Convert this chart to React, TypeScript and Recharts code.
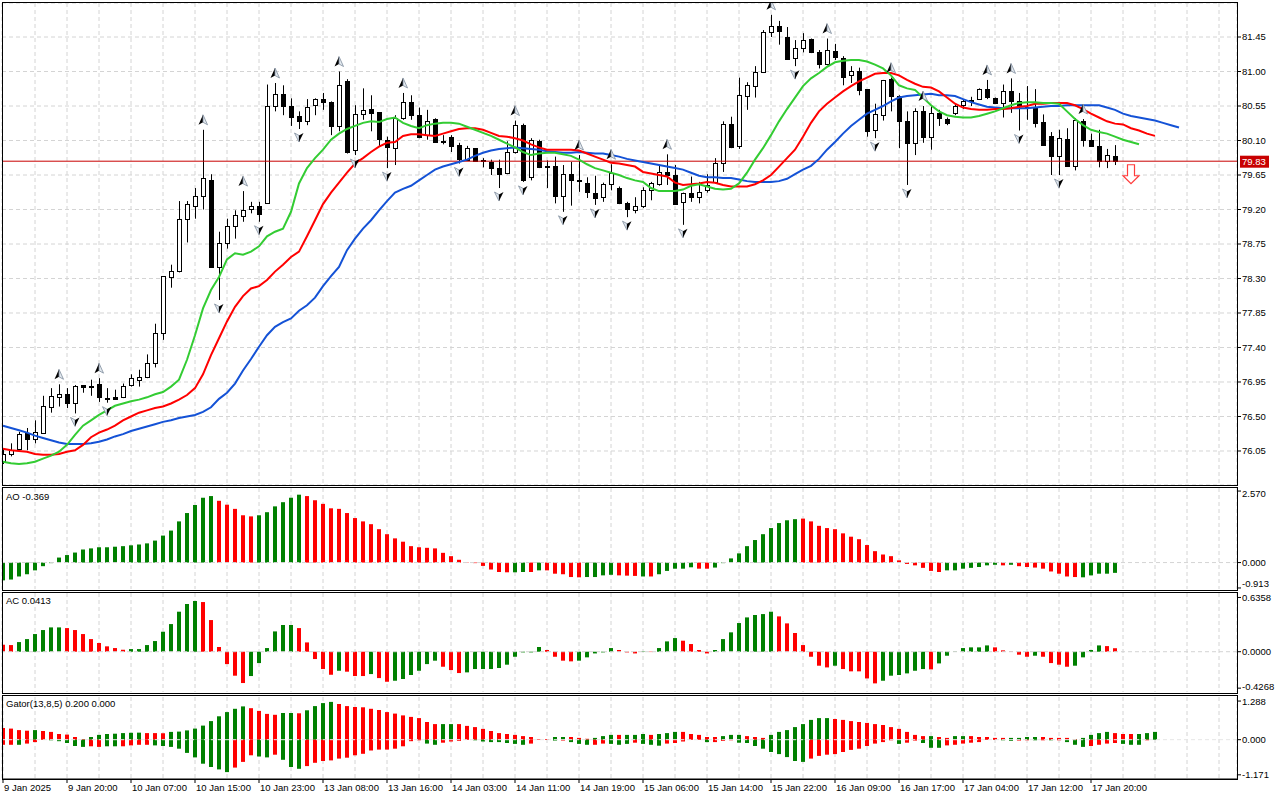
import React from "react";
import {
  ComposedChart,
  Bar,
  Line,
  Scatter,
  XAxis,
  YAxis,
  CartesianGrid,
  ReferenceLine,
  Cell,
} from "recharts";

// ---------- price data (hourly candles) ----------
const opens = [
  75.92, 76.01, 76.08, 76.28, 76.2, 76.29, 76.62, 76.76, 76.79, 76.68,
  76.91, 76.9, 76.92, 76.74, 76.76, 76.75, 76.91, 76.98, 77.01, 77.2,
  77.59, 78.32, 78.4, 79.07, 79.25, 79.37, 79.59, 78.45, 78.76, 78.99,
  79.12, 79.21, 79.25, 79.29, 80.55, 80.71, 80.55, 80.42, 80.36, 80.56,
  80.64, 80.6, 80.29, 80.87, 79.97, 80.45, 80.51, 80.47, 80.11, 80.0,
  80.4, 80.6, 80.43, 80.17, 80.38, 80.09, 80.15, 80.04, 79.85, 80.0,
  79.85, 79.82, 79.74, 79.67, 79.95, 80.3, 79.62, 80.09, 79.77, 79.77,
  79.38, 79.66, 79.58, 79.55, 79.42, 79.36, 79.53, 79.48, 79.29, 79.2,
  79.25, 79.45, 79.53, 79.69, 79.65, 79.3, 79.41, 79.36, 79.46, 79.56,
  79.81, 80.32, 80.03, 80.68, 80.81, 80.99, 81.51, 81.59, 81.45, 81.18,
  81.31, 81.42, 81.26, 81.1, 81.27, 81.18, 80.95, 81.01, 80.77, 80.24,
  80.43, 80.9, 80.68, 80.36, 80.07, 80.49, 80.15, 80.46, 80.38, 80.46,
  80.56, 80.61, 80.64, 80.77, 80.66, 80.59, 80.74, 80.61, 80.54, 80.54,
  80.34, 80.16, 79.9, 80.12, 79.77, 80.36, 80.11, 80.03, 79.83, 79.9,
];
const highs = [
  76.08, 76.15, 76.3, 76.35, 76.45, 76.77, 76.87, 76.92, 76.87, 76.91,
  76.91, 76.98, 77.0, 76.87, 76.85, 76.93, 77.05, 77.11, 77.31, 77.71,
  78.33, 78.48, 79.31, 79.31, 79.48, 80.24, 79.66, 78.91, 79.08, 79.19,
  79.44, 79.3, 79.3, 80.83, 80.85, 80.82, 80.65, 80.48, 80.64, 80.65,
  80.72, 80.61, 81.0, 80.9, 80.56, 80.78, 80.69, 80.47, 80.15, 80.43,
  80.72, 80.69, 80.53, 80.5, 80.39, 80.17, 80.17, 80.07, 80.03, 80.0,
  79.87, 79.85, 79.85, 80.09, 80.36, 80.32, 80.13, 80.11, 79.84, 79.89,
  79.78, 79.82, 79.91, 79.62, 79.64, 79.55, 79.79, 79.5, 79.3, 79.36,
  79.49, 79.56, 79.77, 79.92, 79.78, 79.42, 79.63, 79.56, 79.66, 79.87,
  80.35, 80.41, 80.92, 80.86, 81.07, 81.54, 81.74, 81.66, 81.58, 81.41,
  81.5, 81.43, 81.28, 81.43, 81.36, 81.2, 81.07, 81.05, 80.77, 80.58,
  80.89, 80.92, 80.69, 80.48, 80.52, 80.55, 80.55, 80.5, 80.4, 80.58,
  80.64, 80.67, 80.78, 80.89, 80.66, 80.83, 80.91, 80.72, 80.81, 80.77,
  80.44, 80.21, 80.24, 80.26, 80.39, 80.38, 80.19, 80.24, 79.99, 80.04,
];
const lows = [
  75.88, 75.98, 76.06, 76.06, 76.15, 76.28, 76.55, 76.63, 76.61, 76.54,
  76.81, 76.77, 76.69, 76.68, 76.72, 76.74, 76.89, 76.89, 77.0, 77.14,
  77.5, 78.18, 78.38, 78.77, 79.08, 79.2, 78.45, 78.02, 78.69, 78.82,
  79.04, 79.15, 79.04, 79.29, 80.48, 80.43, 80.29, 80.25, 80.3, 80.43,
  80.5, 80.17, 80.22, 79.93, 79.91, 80.37, 80.22, 80.02, 79.74, 79.78,
  80.37, 80.37, 80.13, 80.11, 80.08, 80.05, 79.95, 79.8, 79.84, 79.83,
  79.75, 79.65, 79.48, 79.66, 79.93, 79.56, 79.58, 79.74, 79.48, 79.28,
  79.17, 79.25, 79.43, 79.35, 79.26, 79.3, 79.45, 79.27, 79.1, 79.15,
  79.22, 79.32, 79.51, 79.52, 79.26, 79.0, 79.3, 79.28, 79.42, 79.54,
  79.69, 80.0, 79.99, 80.5, 80.66, 80.98, 81.45, 81.35, 81.15, 81.07,
  81.25, 81.24, 81.04, 81.08, 81.15, 80.82, 80.85, 80.69, 80.15, 80.13,
  80.36, 80.48, 80.0, 79.52, 79.91, 80.07, 79.98, 80.29, 80.3, 80.43,
  80.51, 80.55, 80.63, 80.64, 80.58, 80.4, 80.46, 80.23, 80.37, 80.27,
  80.03, 79.65, 79.65, 79.76, 79.71, 80.02, 80.02, 79.75, 79.74, 79.78,
];
const closes = [
  76.01, 76.06, 76.27, 76.21, 76.3, 76.64, 76.77, 76.79, 76.67, 76.9,
  76.89, 76.9, 76.75, 76.74, 76.73, 76.9, 77.0, 77.02, 77.2, 77.59,
  78.33, 78.4, 79.07, 79.27, 79.38, 79.61, 78.45, 78.76, 78.99, 79.13,
  79.2, 79.25, 79.14, 80.55, 80.71, 80.55, 80.41, 80.36, 80.54, 80.64,
  80.6, 80.29, 80.83, 79.95, 80.44, 80.5, 80.46, 80.12, 80.01, 80.39,
  80.6, 80.43, 80.15, 80.36, 80.08, 80.08, 80.03, 79.86, 80.0, 79.83,
  79.84, 79.74, 79.66, 79.95, 80.3, 79.59, 80.11, 79.76, 79.76, 79.38,
  79.66, 79.58, 79.57, 79.43, 79.35, 79.53, 79.67, 79.29, 79.21, 79.25,
  79.45, 79.54, 79.69, 79.65, 79.27, 79.41, 79.36, 79.43, 79.52, 79.81,
  80.32, 80.02, 80.7, 80.83, 80.99, 81.52, 81.59, 81.53, 81.16, 81.31,
  81.41, 81.26, 81.1, 81.28, 81.19, 80.93, 81.01, 80.76, 80.23, 80.44,
  80.89, 80.68, 80.35, 80.07, 80.49, 80.14, 80.46, 80.39, 80.33, 80.55,
  80.61, 80.63, 80.77, 80.67, 80.59, 80.75, 80.62, 80.56, 80.52, 80.33,
  80.04, 79.9, 80.13, 79.77, 80.37, 80.11, 80.03, 79.83, 79.91, 79.83,
];

// ---------- Alligator (13,8,5) lines, already shifted forward ----------
const jaw = [
  76.38, 76.35, 76.32, 76.29, 76.25, 76.22, 76.19, 76.16, 76.14, 76.14,
  76.14, 76.15, 76.17, 76.2, 76.24, 76.27, 76.31, 76.34, 76.37, 76.4,
  76.43, 76.45, 76.48, 76.5, 76.52, 76.56, 76.62, 76.73, 76.81, 76.93,
  77.1, 77.25, 77.41, 77.56, 77.67, 77.73, 77.78, 77.88, 77.95, 78.05,
  78.2, 78.33, 78.45, 78.67, 78.82, 78.95, 79.06, 79.19, 79.31, 79.42,
  79.47, 79.51, 79.58, 79.65, 79.72, 79.76, 79.79, 79.82, 79.85, 79.9,
  79.94, 79.97, 79.99, 80.0, 80.01, 80.0, 79.99, 79.98, 79.96, 79.95,
  79.94, 79.94, 79.95, 79.94, 79.93, 79.93, 79.91, 79.89, 79.86, 79.84,
  79.82, 79.8, 79.78, 79.76, 79.74, 79.72, 79.68, 79.64, 79.62, 79.62,
  79.61, 79.61, 79.59, 79.57, 79.56, 79.56, 79.56, 79.57, 79.6, 79.66,
  79.72, 79.77, 79.86, 79.98, 80.08, 80.19, 80.29, 80.37, 80.45, 80.5,
  80.55, 80.61, 80.66, 80.68, 80.69, 80.7, 80.71, 80.69, 80.69, 80.68,
  80.64, 80.6, 80.57, 80.54, 80.53, 80.52, 80.52, 80.52, 80.52, 80.53,
  80.54, 80.55, 80.55, 80.56, 80.56, 80.56, 80.56, 80.56, 80.53, 80.5,
  80.45, 80.42, 80.4, 80.38, 80.36, 80.33, 80.3, 80.27,
];
const teeth = [
  76.08, 76.06, 76.05, 76.04, 76.01, 76.0, 76.0, 76.01, 76.04, 76.06,
  76.13, 76.23, 76.29, 76.33, 76.38, 76.45, 76.5, 76.55, 76.58, 76.61,
  76.63, 76.67, 76.72, 76.78, 76.87, 77.05, 77.3, 77.52, 77.74, 77.93,
  78.07, 78.17, 78.2, 78.28, 78.39, 78.48, 78.58, 78.65, 78.85, 79.06,
  79.27, 79.42, 79.55, 79.68, 79.8, 79.87, 79.95, 80.02, 80.07, 80.08,
  80.16, 80.18, 80.18, 80.17, 80.16, 80.19, 80.22, 80.25, 80.26, 80.26,
  80.24, 80.2, 80.16, 80.15, 80.13, 80.1, 80.05, 80.01, 79.98, 79.98,
  79.98, 79.98, 79.97, 79.93, 79.89, 79.85, 79.81, 79.8, 79.78, 79.76,
  79.69, 79.67, 79.65, 79.63, 79.55, 79.52, 79.53, 79.54, 79.56, 79.55,
  79.52, 79.5, 79.5, 79.5, 79.53, 79.58, 79.65, 79.76, 79.87, 79.98,
  80.15, 80.33, 80.48, 80.58, 80.66, 80.74, 80.81, 80.87, 80.92, 80.97,
  80.98, 80.98, 80.95, 80.89, 80.84, 80.8, 80.79, 80.74, 80.66, 80.58,
  80.53, 80.51, 80.5, 80.5, 80.51, 80.51, 80.52, 80.54, 80.55, 80.58,
  80.58, 80.59, 80.59, 80.59, 80.56, 80.51, 80.45, 80.4, 80.35, 80.32,
  80.31, 80.26, 80.23, 80.19, 80.16,
];
const lips = [
  75.91, 75.89, 75.88, 75.89, 75.91, 75.95, 75.99, 76.04, 76.13, 76.26,
  76.38, 76.45, 76.52, 76.58, 76.64, 76.67, 76.7, 76.72, 76.75, 76.79,
  76.82, 76.89, 76.98, 77.24, 77.56, 77.91, 78.15, 78.32, 78.55, 78.63,
  78.61, 78.65, 78.72, 78.85, 78.91, 78.95, 79.17, 79.54, 79.74, 79.87,
  79.98, 80.11, 80.19, 80.25, 80.29, 80.33, 80.35, 80.34, 80.38, 80.4,
  80.33, 80.29, 80.26, 80.3, 80.32, 80.33, 80.33, 80.32, 80.28, 80.24,
  80.2, 80.16, 80.11, 80.06, 80.01, 79.95, 79.91, 79.93, 79.94, 79.94,
  79.92, 79.9, 79.85, 79.79, 79.74, 79.71, 79.68, 79.65, 79.61, 79.58,
  79.56, 79.48, 79.44, 79.44, 79.44, 79.46, 79.51, 79.53, 79.5, 79.47,
  79.46, 79.47, 79.54, 79.68, 79.85, 80.0, 80.17, 80.35, 80.51, 80.66,
  80.81, 80.91, 80.98, 81.06, 81.12, 81.14, 81.15, 81.15, 81.13, 81.09,
  81.04, 80.95, 80.82, 80.78, 80.76, 80.66, 80.56, 80.48, 80.43, 80.41,
  80.4, 80.4, 80.42, 80.45, 80.48, 80.52, 80.56, 80.59, 80.6, 80.6,
  80.59, 80.59, 80.58, 80.48, 80.38, 80.3, 80.24, 80.21, 80.19, 80.15,
  80.11, 80.08, 80.05,
];

// bar indexes of Bill Williams fractals
const fractalUp = [7, 12, 25, 30, 34, 42, 50, 64, 72, 76, 83, 96, 103, 111, 115, 123, 126, 135];
const fractalDown = [9, 13, 27, 32, 37, 44, 48, 57, 62, 65, 70, 74, 78, 85, 99, 109, 113, 127, 132];
const sellSignal = { bar: 141, price: 79.66 };
const lastPrice = 79.83;

// ---------- Awesome Oscillator ----------
const ao = [
  -0.64, -0.61, -0.5, -0.42, -0.28, -0.13, -0.02, 0.18, 0.27, 0.36,
  0.47, 0.51, 0.55, 0.55, 0.57, 0.59, 0.62, 0.65, 0.69, 0.79,
  0.97, 1.15, 1.48, 1.78, 2.07, 2.33, 2.39, 2.22, 2.08, 1.93,
  1.7, 1.66, 1.7, 1.81, 2.02, 2.17, 2.33, 2.44, 2.39, 2.24,
  2.11, 1.95, 1.93, 1.78, 1.6, 1.48, 1.38, 1.2, 1.02, 0.87,
  0.75, 0.59, 0.55, 0.53, 0.51, 0.35, 0.23, 0.1, 0.01, -0.02,
  -0.12, -0.25, -0.34, -0.35, -0.35, -0.34, -0.34, -0.28, -0.28, -0.4,
  -0.42, -0.52, -0.53, -0.52, -0.52, -0.46, -0.44, -0.46, -0.47, -0.48,
  -0.5, -0.5, -0.42, -0.3, -0.22, -0.22, -0.17, -0.22, -0.22, -0.18,
  -0.02, 0.15, 0.33, 0.59, 0.81, 1.02, 1.24, 1.42, 1.52, 1.56,
  1.58, 1.48, 1.32, 1.24, 1.2, 1.05, 0.93, 0.84, 0.63, 0.41,
  0.29, 0.23, 0.08, -0.05, -0.1, -0.19, -0.3, -0.34, -0.28, -0.28,
  -0.22, -0.19, -0.16, -0.1, -0.08, -0.1, -0.08, -0.13, -0.16, -0.18,
  -0.22, -0.32, -0.4, -0.5, -0.52, -0.53, -0.46, -0.4, -0.4, -0.37,
];
const aoDir = (
  "GGGGGGGGGG GGGGGGGGGG GGGGGGGRRR RRGGGGGGRR RRRRRRRRRR " +
  "RRRRRRRRRR RRRRGGRGRR RRRGGGGRRR GRGGGGGRRG GGGGGGGGGG " +
  "RRRRRRRRRR RRRRRRRRGG GGGGGRGRRR RRRRRGGGGG"
).replace(/ /g, "");

// ---------- Accelerator Oscillator ----------
const ac = [
  0.082, 0.078, 0.113, 0.148, 0.207, 0.254, 0.285, 0.285, 0.277, 0.254,
  0.207, 0.148, 0.102, 0.063, 0.043, 0.023, 0.031, 0.031, 0.078, 0.125,
  0.234, 0.324, 0.469, 0.559, 0.594, 0.582, 0.371, 0.055, -0.145, -0.281,
  -0.367, -0.285, -0.133, 0.043, 0.238, 0.313, 0.313, 0.277, 0.109, -0.086,
  -0.203, -0.27, -0.223, -0.234, -0.285, -0.285, -0.262, -0.309, -0.352, -0.34,
  -0.32, -0.273, -0.223, -0.145, -0.105, -0.176, -0.215, -0.25, -0.242, -0.203,
  -0.203, -0.203, -0.191, -0.152, -0.059, -0.008, -0.008, 0.055, 0.02, -0.059,
  -0.105, -0.113, -0.105, -0.066, -0.02, -0.008, 0.043, 0.02, -0.008, -0.02,
  0.004, -0.004, 0.043, 0.121, 0.16, 0.129, 0.09, 0.02, -0.02, 0.02,
  0.148, 0.227, 0.336, 0.402, 0.43, 0.441, 0.469, 0.414, 0.332, 0.219,
  0.078, -0.059, -0.164, -0.184, -0.164, -0.203, -0.23, -0.23, -0.313, -0.371,
  -0.34, -0.281, -0.273, -0.254, -0.223, -0.203, -0.207, -0.137, -0.047, 0.004,
  0.043, 0.051, 0.051, 0.074, 0.051, 0.016, 0.004, -0.035, -0.059, -0.047,
  -0.059, -0.133, -0.152, -0.176, -0.164, -0.066, 0.02, 0.074, 0.066, 0.041,
];
const acDir = (
  "RRGGGGGGRR RRRRRRGGGG GGGGGRRRRR RGGGGGGRRR RRGRRRGRRG " +
  "GGGGGRRRGG GGGGGGGGRR RRGGGGGRRR GRGGGRRRRG GGGGGGGRRR " +
  "RRRRGRRRRR GGGGGGRGGG GGGGRRRRRG RRRRGGGGRR"
).replace(/ /g, "");

// ---------- Gator Oscillator ----------
const gatorUp = [
  0.39, 0.37, 0.32, 0.3, 0.32, 0.29, 0.26, 0.19, 0.17, 0.09,
  0.02, 0.09, 0.16, 0.19, 0.2, 0.22, 0.23, 0.235, 0.22, 0.22,
  0.215, 0.26, 0.27, 0.31, 0.37, 0.47, 0.62, 0.78, 0.92, 1.03,
  1.11, 1.05, 0.96, 0.86, 0.83, 0.89, 0.89, 0.88, 0.98, 1.12,
  1.22, 1.26, 1.19, 1.12, 1.09, 1.08, 1.03, 0.99, 0.92, 0.87,
  0.81, 0.76, 0.72, 0.59, 0.52, 0.52, 0.52, 0.52, 0.46, 0.42,
  0.36, 0.29, 0.22, 0.19, 0.16, 0.12, 0.09, 0.01, 0.02, 0.09,
  0.09, 0.09, 0.06, 0.03, 0.06, 0.12, 0.16, 0.16, 0.16, 0.16,
  0.19, 0.16, 0.19, 0.22, 0.26, 0.26, 0.19, 0.16, 0.09, 0.09,
  0.12, 0.16, 0.16, 0.12, 0.09, 0.06, 0.16, 0.26, 0.32, 0.42,
  0.52, 0.66, 0.72, 0.72, 0.69, 0.66, 0.62, 0.59, 0.56, 0.52,
  0.49, 0.42, 0.36, 0.26, 0.16, 0.12, 0.12, 0.09, 0.06, 0.12,
  0.12, 0.12, 0.09, 0.09, 0.06, 0.06, 0.06, 0.06, 0.09, 0.09,
  0.09, 0.06, 0.06, 0.06, 0.02, 0.06, 0.16, 0.22, 0.26, 0.22,
  0.19, 0.19, 0.19, 0.22, 0.26,
];
const gatorUpDir = (
  "RRRRGRRRRR RGGGGGGGRR RGGGGGGGGG GRRRRGGRGG GGRRRRRRRR " +
  "RRRRRGGRRR RRRRRRRRRG GRRRGGGRGG GRGGGRRRRR GGGRRRGGGG " +
  "GGGGRRRRRR RRRRRRGRRG GRRRRRGGGG RRRRRGGGGR RRGGG"
).replace(/ /g, "");
const gatorDown = [
  -0.17, -0.17, -0.17, -0.13, -0.08, -0.01, -0.02, -0.05, -0.11, -0.21,
  -0.24, -0.22, -0.24, -0.22, -0.22, -0.22, -0.19, -0.17, -0.17, -0.19,
  -0.21, -0.24, -0.3, -0.44, -0.59, -0.8, -0.91, -0.99, -1.08, -0.93,
  -0.74, -0.52, -0.56, -0.59, -0.5, -0.67, -0.91, -0.97, -0.88, -0.77,
  -0.71, -0.69, -0.63, -0.6, -0.52, -0.47, -0.36, -0.33, -0.33, -0.3,
  -0.22, -0.05, -0.02, -0.13, -0.17, -0.1, -0.06, -0.04, -0.01, -0.02,
  -0.06, -0.08, -0.08, -0.11, -0.14, -0.17, -0.13, -0.01, -0.01, -0.03,
  -0.03, -0.08, -0.14, -0.17, -0.17, -0.13, -0.14, -0.17, -0.14, -0.1,
  -0.14, -0.17, -0.2, -0.13, -0.11, -0.06, -0.01, -0.01, -0.08, -0.08,
  -0.04, -0.02, -0.1, -0.11, -0.21, -0.3, -0.41, -0.48, -0.58, -0.71,
  -0.74, -0.63, -0.54, -0.5, -0.48, -0.41, -0.34, -0.3, -0.21, -0.13,
  -0.08, -0.02, -0.14, -0.1, -0.03, -0.11, -0.27, -0.27, -0.19, -0.17,
  -0.13, -0.1, -0.08, -0.01, -0.01, -0.02, -0.04, -0.03, -0.02, -0.02,
  -0.02, -0.02, -0.02, -0.08, -0.17, -0.24, -0.21, -0.17, -0.13, -0.11,
  -0.14, -0.17, -0.17, -0.02,
];
const gatorDownDir = (
  "RRGRRRGGGG GRRGGRRRRG GGGGGGGGGR RRGGRGGGRR RRRRRRRRRR " +
  "RRRGGRRRRG GGGGGGRRRG RGGGRRGGGR GGGRRRRRGR RRGGGGGGGG " +
  "GRRRRRRRRR RRGRRGGGRR RRRRRGGRRG RGRGGGRRRR GGGR"
).replace(/ /g, "");

// ---------- axes ----------
const priceTicks = [76.05, 76.5, 76.95, 77.4, 77.85, 78.3, 78.75, 79.2, 79.65, 80.1, 80.55, 81.0, 81.45];
const aoTicks = [2.57, 0, -0.913];
const acTicks = [0.6358, 0, -0.4268];
const gatorTicks = [1.288, 0, -1.171];
const timeLabels = [
  "9 Jan 2025", "9 Jan 20:00", "10 Jan 07:00", "10 Jan 15:00", "10 Jan 23:00",
  "13 Jan 08:00", "13 Jan 16:00", "14 Jan 03:00", "14 Jan 11:00", "14 Jan 19:00",
  "15 Jan 06:00", "15 Jan 14:00", "15 Jan 22:00", "16 Jan 09:00", "16 Jan 17:00",
  "17 Jan 04:00", "17 Jan 12:00", "17 Jan 20:00",
];
const BARS_PER_LABEL = 8;
const labelBars = timeLabels.map((_, k) => k * BARS_PER_LABEL);
const gridBars = Array.from({ length: 39 }, (_, k) => k * 4);

// ---------- layout / style ----------
const W = 1280;
const X_DOMAIN: [number, number] = [-0.125, 154.25];
const FONT = '"Liberation Sans", Arial, sans-serif';
const GREEN = "#008000";
const RED = "#ff0000";
const GRID = "#d4d4d4";
const dirColor = (d: string) => (d === "G" ? GREEN : RED);

const mainData = jaw.map((j, i) => ({
  i,
  o: opens[i],
  h: highs[i],
  l: lows[i],
  c: closes[i],
  jaw: j,
  teeth: teeth[i],
  lips: lips[i],
}));
const upData = fractalUp.map((b) => ({ i: b, v: highs[b] }));
const downData = fractalDown.map((b) => ({ i: b, v: lows[b] }));
const sellData = [{ i: sellSignal.bar, v: sellSignal.price }];
const aoData = ao.map((v, i) => ({ i, v }));
const acData = ac.map((v, i) => ({ i, v }));
const gatorData = gatorUp.map((u, i) => ({ i, up: u, down: gatorDown[i] }));

function Candle(props: any) {
  const { x, y, width, height, payload } = props;
  if (!payload || payload.o === undefined || !isFinite(y)) return <g />;
  const top = Math.min(y, y + height);
  const bot = Math.max(y, y + height);
  const span = payload.h - payload.l || 1;
  const py = (p: number) => top + ((payload.h - p) / span) * (bot - top);
  const cx = Math.round(x + width / 2) + 0.5;
  const yo = py(payload.o);
  const yc = py(payload.c);
  const bt = Math.round(Math.min(yo, yc)) + 0.5;
  const bb = Math.round(Math.max(yo, yc)) + 0.5;
  const bull = payload.c >= payload.o;
  return (
    <g>
      <line x1={cx} x2={cx} y1={top} y2={bot} stroke="#000" strokeWidth={1} />
      <rect
        x={cx - 2}
        y={bt}
        width={4}
        height={Math.max(bb - bt, 1)}
        fill={bull ? "#fff" : "#000"}
        stroke="#000"
        strokeWidth={1}
      />
    </g>
  );
}

function UpFractal(props: any) {
  const { cx, cy } = props;
  const y = cy - 9;
  return (
    <g>
      <path d={`M${cx},${y - 6} L${cx - 4.5},${y + 4} L${cx},${y + 1.5} Z`} fill="#000" />
      <path
        d={`M${cx},${y - 6} L${cx + 4.5},${y + 4} L${cx},${y + 1.5} Z`}
        fill="#e4eaf0"
        stroke="#7d8c9c"
        strokeWidth={0.8}
      />
    </g>
  );
}

function DownFractal(props: any) {
  const { cx, cy } = props;
  const y = cy + 8;
  return (
    <g>
      <path
        d={`M${cx},${y + 5} L${cx - 4.5},${y - 4} L${cx},${y - 1.5} Z`}
        fill="#e4eaf0"
        stroke="#7d8c9c"
        strokeWidth={0.8}
      />
      <path d={`M${cx},${y + 5} L${cx + 4.5},${y - 4} L${cx},${y - 1.5} Z`} fill="#000" />
    </g>
  );
}

function SellArrow(props: any) {
  const { cx, cy } = props;
  const t = cy - 9.5;
  const d = `M${cx - 3.5},${t} L${cx + 3.5},${t} L${cx + 3.5},${t + 11} L${cx + 8},${t + 11} L${cx},${t + 19} L${cx - 8},${t + 11} L${cx - 3.5},${t + 11} Z`;
  return <path d={d} fill="#fff" stroke="#ff3b3b" strokeWidth={1.2} />;
}

function PriceTag(props: any) {
  const vb = props.viewBox || {};
  const x = (vb.x ?? 0) + (vb.width ?? 0) + 3;
  const y = vb.y ?? 0;
  return (
    <g>
      <rect x={x} y={y - 5.5} width={29} height={12} fill="#c80000" />
      <text x={x + 2} y={y + 0.5} dy="0.35em" fill="#fff" fontSize={9.5} fontFamily={FONT}>
        {lastPrice.toFixed(2)}
      </text>
    </g>
  );
}

// right-hand labels of the indicator windows: the top and bottom values are
// nudged inside the window, as the terminal does
function SideTick(props: any) {
  const { x, y, payload, index, digits, shift } = props;
  const dy = (shift && shift[index]) || 0;
  return (
    <text x={x} y={y + dy} dy="0.35em" fontSize={9.5} fill="#000" fontFamily={FONT} textAnchor="start">
      {Number(payload.value).toFixed(digits)}
    </text>
  );
}

// tick renderer for the bottom time axis: the axis carries a tick every
// 4 bars (for the grid); a mark and a label are drawn every 8 bars.
function TimeTick(props: any) {
  const { x, y, payload } = props;
  const k = labelBars.indexOf(payload.value);
  if (k < 0) return <g />;
  return (
    <g>
      <line x1={x} x2={x} y1={y} y2={y + 4} stroke="#000" />
      <text x={x + 1} y={y + 5} dy="0.75em" fontSize={9.5} fill="#000" fontFamily={FONT} textAnchor="start">
        {timeLabels[k]}
      </text>
    </g>
  );
}

const axisTick = { fontSize: 9.5, fill: "#000", fontFamily: FONT };

const frame = (top: number, height: number): React.CSSProperties => ({
  position: "absolute",
  left: 2,
  top,
  width: 1236,
  height,
  border: "1px solid #000",
  boxSizing: "border-box",
  pointerEvents: "none",
});

const title = (top: number): React.CSSProperties => ({
  position: "absolute",
  left: 6,
  top,
  fontSize: 9.5,
  fontFamily: FONT,
  color: "#000",
  lineHeight: "10px",
});

export default function App() {
  return (
    <div style={{ position: "relative", width: W, height: 800, background: "#fff", fontFamily: FONT }}>
      <style>{"body{margin:0;background:#fff} .recharts-surface,.recharts-wrapper{overflow:visible}"}</style>

      {/* main price window */}
      <div style={{ position: "absolute", left: 0, top: 3 }}>
        <ComposedChart width={W} height={482} data={mainData} margin={{ top: 0, right: 0, bottom: 0, left: 2 }}>
          <CartesianGrid stroke={GRID} strokeDasharray="4 3" />
          <XAxis dataKey="i" type="number" domain={X_DOMAIN} allowDataOverflow ticks={gridBars} hide />
          <YAxis
            orientation="right"
            width={43}
            domain={[75.6065, 81.8935]}
            allowDataOverflow
            ticks={priceTicks}
            interval={0}
            tickFormatter={(v: number) => v.toFixed(2)}
            tick={axisTick}
            tickSize={4}
            tickMargin={1}
            tickLine={{ stroke: "#000" }}
            axisLine={false}
          />
          <Bar
            dataKey={(d: any) => (d.o === undefined ? null : [d.l, d.h])}
            barSize={5}
            shape={<Candle />}
            isAnimationActive={false}
          />
          <ReferenceLine y={lastPrice} stroke="#c80000" strokeWidth={1} label={<PriceTag />} />
          <Line dataKey="jaw" stroke="#1452d6" strokeWidth={2} dot={false} isAnimationActive={false} />
          <Line dataKey="teeth" stroke="#ff0000" strokeWidth={2} dot={false} isAnimationActive={false} />
          <Line dataKey="lips" stroke="#33cc33" strokeWidth={2} dot={false} isAnimationActive={false} />
          <Scatter data={upData} dataKey="v" shape={<UpFractal />} isAnimationActive={false} />
          <Scatter data={downData} dataKey="v" shape={<DownFractal />} isAnimationActive={false} />
          <Scatter data={sellData} dataKey="v" shape={<SellArrow />} isAnimationActive={false} />
        </ComposedChart>
      </div>

      {/* AO window */}
      <div style={{ position: "absolute", left: 0, top: 488 }}>
        <ComposedChart width={W} height={101} data={aoData} margin={{ top: 0, right: 0, bottom: 0, left: 2 }}>
          <CartesianGrid stroke={GRID} strokeDasharray="4 3" horizontal={false} />
          <XAxis dataKey="i" type="number" domain={X_DOMAIN} allowDataOverflow ticks={gridBars} hide />
          <YAxis
            orientation="right"
            width={43}
            domain={[-0.95, 2.68]}
            allowDataOverflow
            ticks={aoTicks}
            interval={0}
            tick={<SideTick digits={3} shift={[3, 0, -4]} />}
            tickSize={4}
            tickMargin={1}
            tickLine={{ stroke: "#000" }}
            axisLine={false}
          />
          <ReferenceLine y={0} stroke={GRID} strokeDasharray="4 3" />
          <Bar dataKey="v" barSize={4} isAnimationActive={false}>
            {aoData.map((_, i) => (
              <Cell key={i} fill={dirColor(aoDir[i])} />
            ))}
          </Bar>
        </ComposedChart>
      </div>

      {/* AC window */}
      <div style={{ position: "absolute", left: 0, top: 593 }}>
        <ComposedChart width={W} height={99} data={acData} margin={{ top: 0, right: 0, bottom: 0, left: 2 }}>
          <CartesianGrid stroke={GRID} strokeDasharray="4 3" horizontal={false} />
          <XAxis dataKey="i" type="number" domain={X_DOMAIN} allowDataOverflow ticks={gridBars} hide />
          <YAxis
            orientation="right"
            width={43}
            domain={[-0.472, 0.688]}
            allowDataOverflow
            ticks={acTicks}
            interval={0}
            tick={<SideTick digits={4} shift={[0.5, 0, -1.5]} />}
            tickSize={4}
            tickMargin={1}
            tickLine={{ stroke: "#000" }}
            axisLine={false}
          />
          <ReferenceLine y={0} stroke={GRID} strokeDasharray="4 3" />
          <Bar dataKey="v" barSize={4} isAnimationActive={false}>
            {acData.map((_, i) => (
              <Cell key={i} fill={dirColor(acDir[i])} />
            ))}
          </Bar>
        </ComposedChart>
      </div>

      {/* Gator window + time axis */}
      <div style={{ position: "absolute", left: 0, top: 697 }}>
        <ComposedChart
          width={W}
          height={103}
          data={gatorData}
          stackOffset="sign"
          margin={{ top: 0, right: 0, bottom: 0, left: 2 }}
        >
          <CartesianGrid stroke={GRID} strokeDasharray="4 3" horizontal={false} />
          <XAxis
            dataKey="i"
            type="number"
            domain={X_DOMAIN}
            allowDataOverflow
            ticks={gridBars}
            tick={<TimeTick />}
            tickSize={0}
            tickMargin={0}
            tickLine={false}
            axisLine={{ stroke: "#000" }}
            height={21}
            interval={0}
          />
          <YAxis
            orientation="right"
            width={43}
            domain={[-1.31, 1.423]}
            allowDataOverflow
            ticks={gatorTicks}
            interval={0}
            tick={<SideTick digits={3} shift={[0.5, 0, -0.5]} />}
            tickSize={4}
            tickMargin={1}
            tickLine={{ stroke: "#000" }}
            axisLine={false}
          />
          <Bar dataKey="up" stackId="g" barSize={4} isAnimationActive={false}>
            {gatorData.map((_, i) => (
              <Cell key={i} fill={dirColor(gatorUpDir[i])} />
            ))}
          </Bar>
          <Bar dataKey="down" stackId="g" barSize={4} isAnimationActive={false}>
            {gatorData.map((_, i) => (
              <Cell key={i} fill={dirColor(gatorDownDir[i])} />
            ))}
          </Bar>
          <ReferenceLine y={0} stroke="#e6e6e6" strokeDasharray="4 3" />
        </ComposedChart>
      </div>

      {/* window frames */}
      <div style={frame(2, 484)} />
      <div style={frame(487, 104)} />
      <div style={frame(592, 102)} />
      <div style={frame(695, 85)} />

      {/* indicator captions */}
      <div style={title(492)}>AO -0.369</div>
      <div style={title(596)}>AC 0.0413</div>
      <div style={title(699)}>Gator(13,8,5) 0.200 0.000</div>
    </div>
  );
}
